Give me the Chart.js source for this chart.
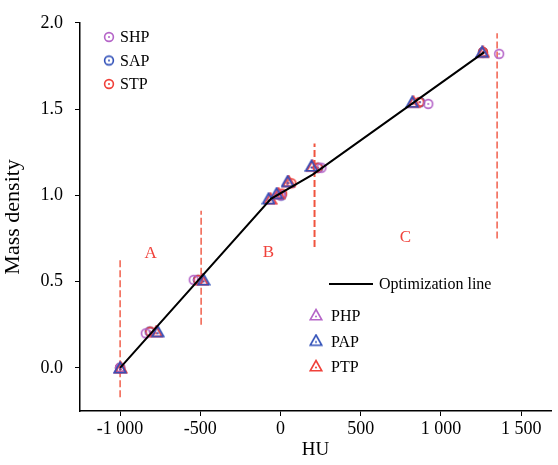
<!DOCTYPE html>
<html>
<head>
<meta charset="utf-8">
<script src="https://cdn.jsdelivr.net/npm/chart.js@4.4.0/dist/chart.umd.min.js"></script>
<style>
  html, body { margin: 0; padding: 0; background: #fff; }
  #wrap { width: 558px; height: 465px; position: relative; }
</style>
</head>
<body>
<div id="wrap"><canvas id="chart"></canvas></div>
<script>
// tick values
const xTicks = [-1000, -500, 0, 500, 1000, 1500]
const yTicks = [0, 0.5, 1.0, 1.5, 2.0]

// measured points (HU, mass density)
const shpHU = [-1000, -840, -541, 0, 255, 921, 1363]
const shpRho = [0.0, 0.20, 0.51, 1.00, 1.16, 1.53, 1.82]
const sapHU = [-1000, -815, -515, 5, 235, 870, 1262]
const sapRho = [0.0, 0.21, 0.51, 1.00, 1.16, 1.54, 1.83]
const stpHU = [-1000, -812, -512, 10, 68, 232, 865, 1262]
const stpRho = [0.0, 0.21, 0.51, 1.01, 1.07, 1.16, 1.54, 1.83]
const phpHU = [-1000, -772, -488, -68, -20, 46, 196, 825, 1258]
const phpRho = [0.0, 0.21, 0.51, 0.98, 1.01, 1.08, 1.17, 1.54, 1.83]
const papHU = [-1000, -765, -479, -75, -25, 44, 193, 821, 1257]
const papRho = [0.0, 0.21, 0.51, 0.98, 1.01, 1.08, 1.17, 1.54, 1.83]
const ptpHU = [-995, -775, -488, -62, -12, 52, 200, 830, 1264]
const ptpRho = [0.0, 0.21, 0.51, 0.98, 1.01, 1.08, 1.17, 1.54, 1.83]

// optimization line
const lineHU = [-1000, -60, 200, 1270]
const lineRho = [0.0, 0.98, 1.12, 1.83]

// region boundaries (dashed)
const boundaryHU = [-1000, -495, 212, 1350]
const boundaryLow = [-0.17, 0.25, 0.70, 0.75]
const boundaryHigh = [0.63, 0.91, 1.30, 1.94]

// region labels
const regionNames = ['A', 'B', 'C']
const regionHU = [-810, -75, 778]
const regionRho = [0.66, 0.67, 0.755]

const PURPLE = '#b565c8'
const BLUE = '#2f4fb8'
const RED = '#f0413a'
const SERIF = '"Liberation Serif", "DejaVu Serif", serif'

function pts(xs, ys) {
  return xs.map((x, i) => ({ x: x, y: ys[i] }))
}

function marker(shape, color) {
  const c = document.createElement('canvas')
  c.width = 14
  c.height = 14
  const g = c.getContext('2d')
  g.strokeStyle = color
  g.fillStyle = color
  g.lineWidth = 1.6
  g.beginPath()
  if (shape === 'circle') {
    g.arc(7, 7, 4.4, 0, Math.PI * 2)
  } else {
    g.moveTo(7, 1.5)
    g.lineTo(12.8, 11.8)
    g.lineTo(1.2, 11.8)
    g.closePath()
  }
  g.stroke()
  g.beginPath()
  g.arc(7, shape === 'circle' ? 7 : 8.5, 1, 0, Math.PI * 2)
  g.fill()
  return c
}

function series(label, xs, ys, shape, color, order) {
  return {
    label: label,
    data: pts(xs, ys),
    pointStyle: marker(shape, color),
    pointRadius: 6,
    showLine: false,
    order: order
  }
}

const datasets = [
  {
    label: 'Optimization line',
    data: pts(lineHU, lineRho),
    showLine: true,
    borderColor: '#000',
    borderWidth: 2,
    pointRadius: 0,
    order: 0
  },
  series('PAP', papHU, papRho, 'triangle', BLUE, 1),
  series('PTP', ptpHU, ptpRho, 'triangle', RED, 2),
  series('PHP', phpHU, phpRho, 'triangle', PURPLE, 3),
  series('SHP', shpHU, shpRho, 'circle', PURPLE, 4),
  series('STP', stpHU, stpRho, 'circle', RED, 5),
  series('SAP', sapHU, sapRho, 'circle', BLUE, 6)
]

boundaryHU.forEach((b, i) => {
  datasets.push({
    label: 'boundary' + i,
    data: [{ x: b, y: boundaryLow[i] }, { x: b, y: boundaryHigh[i] }],
    showLine: true,
    borderColor: '#f0543f',
    borderWidth: i === 2 ? 2 : 1.4,
    borderDash: [7, 3],
    pointRadius: 0,
    order: 7
  })
})

function fmtHU(v) {
  const a = Math.abs(v)
  let s = a >= 1000 ? Math.floor(a / 1000) + ' ' + String(a % 1000).padStart(3, '0') : String(a)
  return (v < 0 ? '-' : '') + s
}

const annotate = {
  id: 'annotate',
  afterDatasetsDraw(chart) {
    const ctx = chart.ctx
    const xs = chart.scales.x
    const ys = chart.scales.y
    ctx.save()
    ctx.font = '17px ' + SERIF
    ctx.fillStyle = RED
    ctx.textAlign = 'center'
    ctx.textBaseline = 'middle'
    regionNames.forEach((n, i) => {
      ctx.fillText(n, xs.getPixelForValue(regionHU[i]), ys.getPixelForValue(regionRho[i]))
    })

    ctx.font = '16px ' + SERIF
    ctx.fillStyle = '#000'
    ctx.textAlign = 'left'
    const top = [['SHP', PURPLE], ['SAP', BLUE], ['STP', RED]]
    top.forEach((t, i) => {
      const y = 37 + i * 23.5
      ctx.drawImage(marker('circle', t[1]), 109 - 7, y - 7)
      ctx.fillText(t[0], 120, y + 1)
    })

    ctx.strokeStyle = '#000'
    ctx.lineWidth = 2
    ctx.beginPath()
    ctx.moveTo(329, 284)
    ctx.lineTo(373, 284)
    ctx.stroke()
    ctx.fillText('Optimization line', 379, 285)

    const bot = [['PHP', PURPLE], ['PAP', BLUE], ['PTP', RED]]
    bot.forEach((t, i) => {
      const y = 316 + i * 25.5
      ctx.drawImage(marker('triangle', t[1]), 316 - 7, y - 8)
      ctx.fillText(t[0], 331, y + 1)
    })
    ctx.restore()
  }
}

new Chart(document.getElementById('chart'), {
  type: 'scatter',
  data: { datasets: datasets },
  options: {
    responsive: true,
    maintainAspectRatio: false,
    animation: false,
    layout: { padding: { top: 21, right: 0, left: 0, bottom: 0 } },
    plugins: {
      legend: { display: false },
      tooltip: { enabled: false }
    },
    scales: {
      x: {
        type: 'linear',
        min: -1250,
        max: 1686,
        afterBuildTicks: s => { s.ticks = xTicks.map(v => ({ value: v })) },
        afterFit: s => { s.height = 54 },
        grid: { drawOnChartArea: false, color: '#000', tickLength: 5, lineWidth: 1 },
        border: { color: '#000', width: 1.5 },
        ticks: {
          color: '#000',
          font: { family: SERIF, size: 18 },
          padding: 2,
          maxRotation: 0,
          callback: v => fmtHU(v)
        },
        title: {
          display: true,
          text: 'HU',
          color: '#000',
          font: { family: SERIF, size: 19 },
          padding: { top: 2 }
        }
      },
      y: {
        type: 'linear',
        min: -0.25,
        max: 2.0,
        afterBuildTicks: s => { s.ticks = yTicks.map(v => ({ value: v })) },
        afterFit: s => { s.width = 80 },
        grid: { drawOnChartArea: false, color: '#000', tickLength: 5, lineWidth: 1 },
        border: { color: '#000', width: 1.5 },
        ticks: {
          color: '#000',
          font: { family: SERIF, size: 18 },
          padding: 12,
          callback: v => v.toFixed(1)
        },
        title: {
          display: true,
          text: 'Mass density',
          color: '#000',
          font: { family: SERIF, size: 22 },
          padding: { top: 0, bottom: 0 }
        }
      }
    }
  },
  plugins: [annotate]
})
</script>
</body>
</html>
